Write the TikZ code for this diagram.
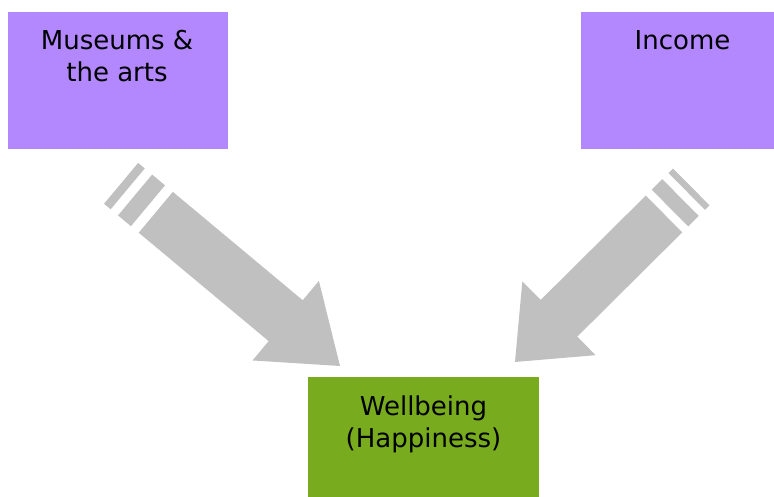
\documentclass[tikz,border=0pt]{standalone}
\usepackage{fontspec}
\setmainfont{DejaVu Sans}
\definecolor{boxpurple}{HTML}{B388FF}
\definecolor{boxgreen}{HTML}{78AC1E}
\definecolor{arrowgray}{HTML}{C0C0C0}
\begin{document}
\begin{tikzpicture}[x=1pt,y=-1pt,
  box/.style={fill=#1, draw=none, inner sep=0pt, anchor=north west},
  lbl/.style={font=\fontsize{26}{32}\selectfont, align=center, anchor=base, inner sep=0pt, text=black},
  blk/.style={fill=arrowgray, draw=none}]
\useasboundingbox (0,0) rectangle (774,497);
\fill[white] (0,0) rectangle (774,497);
% boxes
\node[box=boxpurple, minimum width=220pt, minimum height=137pt] (mus) at (8,12) {};
\node[box=boxpurple, minimum width=193pt, minimum height=137pt] (inc) at (581,12) {};
\node[box=boxgreen, minimum width=231pt, minimum height=120pt] (wb) at (308,377) {};
% labels (anchor base = baseline of last line)
\node[lbl] (mustxt) at (117,81.5) {Museums \&\\the arts};
\node[lbl] (inctxt) at (682.5,49.3) {Income};
\node[lbl] (wbtxt) at (423.5,447.5) {Wellbeing\\(Happiness)};
% left block arrow
\coordinate (tailL) at (155.8,212.3);
\begin{scope}[shift={(tailL)}, rotate=-39.84]
  \fill[blk] (0,-26.6) -- (169.2,-26.6) -- (169.2,-51.8) -- (239.9,0) -- (169.2,51.8) -- (169.2,26.6) -- (0,26.6) -- cycle;
  \fill[blk] (-10.2,-26.6) rectangle (-27,26.6);
  \fill[blk] (-36.6,-26.6) rectangle (-45.2,26.6);
\end{scope}
% right block arrow
\coordinate (tailR) at (664,214);
\begin{scope}[shift={(tailR)}, rotate=224.8]
  \fill[blk] (0,-25.9) -- (148,-25.9) -- (148,-52) -- (210,0) -- (148,52) -- (148,25.9) -- (0,25.9) -- cycle;
  \fill[blk] (-8.45,-25.9) rectangle (-23.3,25.9);
  \fill[blk] (-32,-25.9) rectangle (-38.4,25.9);
\end{scope}
\end{tikzpicture}
\end{document}
